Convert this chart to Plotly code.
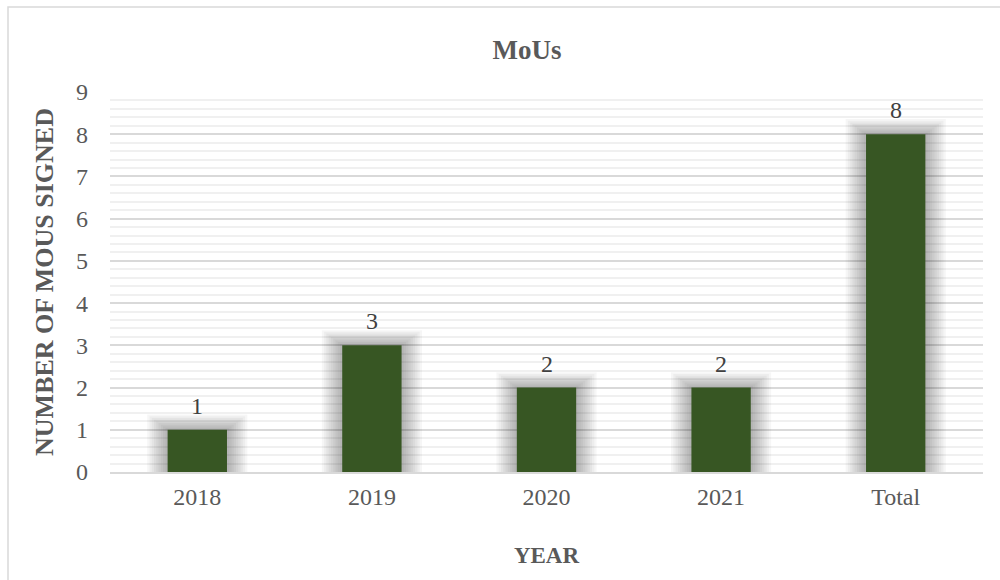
import plotly.graph_objects as go

categories = ["2018", "2019", "2020", "2021", "Total"]
values = [1, 3, 2, 2, 8]
y_ticks = [0, 1, 2, 3, 4, 5, 6, 7, 8, 9]

BAR_W = 0.34
FONT = "Liberation Serif, Times New Roman, serif"
GREY = "#595959"

fig = go.Figure()

# soft glow behind bars (approximation of the shadow effect)
n_layers = 9
for k in range(n_layers, 0, -1):
    fig.add_trace(go.Bar(
        x=categories,
        y=[v + 0.04 * k for v in values],
        width=BAR_W + 0.026 * k,
        marker=dict(color="rgba(0,0,0,0.035)", line=dict(width=0)),
        hoverinfo="skip",
        showlegend=False,
    ))

fig.add_trace(go.Bar(
    x=categories,
    y=values,
    width=BAR_W,
    marker=dict(color="#375623", line=dict(width=0)),
    showlegend=False,
))

# data labels: on a category axis, annotation x is the category index
annotations = [
    dict(x=i, y=v, xref="x", yref="y", text=str(v), showarrow=False,
         yanchor="bottom", yshift=9,
         font=dict(family=FONT, size=24, color="#404040"))
    for i, v in enumerate(values)
]

fig.update_layout(
    width=1000,
    height=580,
    barmode="overlay",
    paper_bgcolor="white",
    plot_bgcolor="white",
    margin=dict(l=110, r=17, t=92, b=108),
    font=dict(family=FONT, color=GREY, size=24),
    title=dict(
        text="<b>MoUs</b>",
        x=0.527, xanchor="center",
        y=1 - 50 / 580, yanchor="middle",
        font=dict(family=FONT, size=27, color=GREY),
    ),
    xaxis=dict(
        type="category",
        range=[-0.5, 4.5],
        showgrid=False,
        showline=True,
        linecolor="#d9d9d9",
        linewidth=1.5,
        ticks="",
        ticklabelstandoff=2,
        tickfont=dict(family=FONT, size=24, color=GREY),
        title=dict(text="<b>YEAR</b>", font=dict(family=FONT, size=23, color=GREY), standoff=38),
    ),
    yaxis=dict(
        range=[0, 9],
        tickvals=y_ticks,
        showgrid=True,
        gridcolor="#d9d9d9",
        gridwidth=1.5,
        zeroline=False,
        showline=False,
        ticks="",
        ticklabelstandoff=21,
        tickfont=dict(family=FONT, size=24, color=GREY),
        minor=dict(dtick=0.2, showgrid=True, gridcolor="#f0f0f0", gridwidth=1.5),
        title=dict(text="<b>NUMBER OF MOUS SIGNED</b>", font=dict(family=FONT, size=26, color=GREY), standoff=14),
    ),
    annotations=annotations,
    shapes=[
        dict(type="rect", xref="paper", yref="paper",
             x0=-102 / 873, x1=1.2, y0=-1.0, y1=1 + 85 / 380,
             line=dict(color="#d9d9d9", width=1.5), fillcolor="rgba(0,0,0,0)",
             layer="below"),
    ],
)

fig.write_html("out.html", config={"displayModeBar": False},
               post_script="document.body.style.margin='0';")
